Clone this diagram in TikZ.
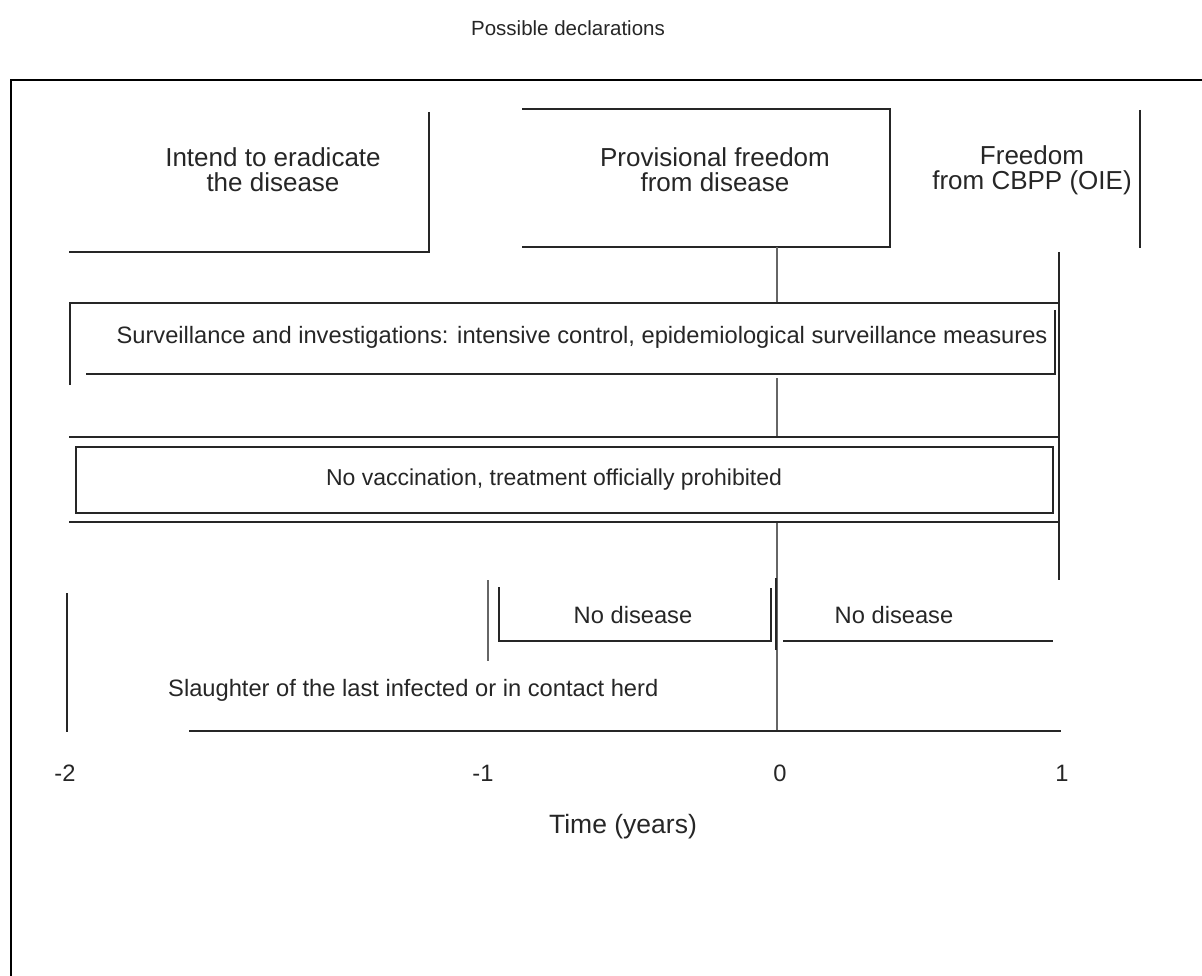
\documentclass[tikz,border=0pt]{standalone}
\usepackage{fontspec}
\setmainfont{Liberation Sans}
\begin{document}
\begin{tikzpicture}[x=1pt,y=-1pt,
  ln/.style={line width=1.8pt, black!85},
  greyln/.style={line width=1.6pt, black!60},
  frameln/.style={line width=2.6pt, black},
  lbl/.style={font=\fontsize{23.7}{25}\selectfont, align=center, inner sep=0pt, text=black!85},
  toplbl/.style={font=\fontsize{26}{25}\selectfont, align=center, inner sep=0pt, text=black!85},
  ttl/.style={font=\fontsize{20.5}{22}\selectfont, inner sep=0pt, text=black!85}]
\useasboundingbox (0,0) rectangle (1202,976);
% frame
\draw[frameln] (11,976) -- (11,80) -- (1202,80);
\node[ttl] (title) at (568,28) {Possible declarations};
% declarations
\draw[ln] (429,112) -- (429,252) -- (69,252);
\node[toplbl] (intend) at (273,170) {Intend to eradicate\\the disease};
\draw[ln] (522,109) -- (890,109) -- (890,247) -- (522,247);
\node[toplbl] (prov) at (715,170) {Provisional freedom\\from disease};
\draw[ln] (1140,110) -- (1140,248);
\node[toplbl] (free) at (1032,170) {Freedom\\from CBPP (OIE)};
% time markers
\draw[greyln] (777,247) -- (777,303);
\draw[greyln] (777,378) -- (777,437);
\draw[greyln] (777,522) -- (777,731);
\draw[ln] (1059,252) -- (1059,580);
% surveillance
\draw[ln] (70,385) -- (70,303) -- (1059,303);
\draw[ln] (1055,310) -- (1055,374) -- (86,374);
\node[lbl] (surv) at (582,337) {Surveillance and investigations: intensive control, epidemiological surveillance measures};
% no vaccination
\draw[ln] (69,437) -- (1059,437);
\draw[ln] (69,522) -- (1059,522);
\draw[ln] (76,447) rectangle (1053,513);
\node[lbl, font=\fontsize{23}{25}\selectfont] (novac) at (554,480) {No vaccination, treatment officially prohibited};
% no disease
\draw[ln] (67,593) -- (67,732);
\draw[greyln] (488,580) -- (488,661);
\draw[ln] (499,587) -- (499,641) -- (771,641) -- (771,588);
\draw[ln] (776,578) -- (776,650);
\draw[ln] (783,641) -- (1053,641);
\node[lbl] (nod1) at (633,615) {No disease};
\node[lbl] (nod2) at (894,615) {No disease};
\node[lbl, anchor=west] (slaught) at (168,690) {Slaughter of the last infected or in contact herd};
\draw[ln] (189,731) -- (1061,731);
% axis
\node[lbl] (tm2) at (65,773) {-2};
\node[lbl] (tm1) at (483,773) {-1};
\node[lbl] (t0) at (780,773) {0};
\node[lbl] (t1) at (1062,773) {1};
\node[lbl, font=\fontsize{26.5}{28}\selectfont] (time) at (623,827) {Time (years)};
\end{tikzpicture}
\end{document}
